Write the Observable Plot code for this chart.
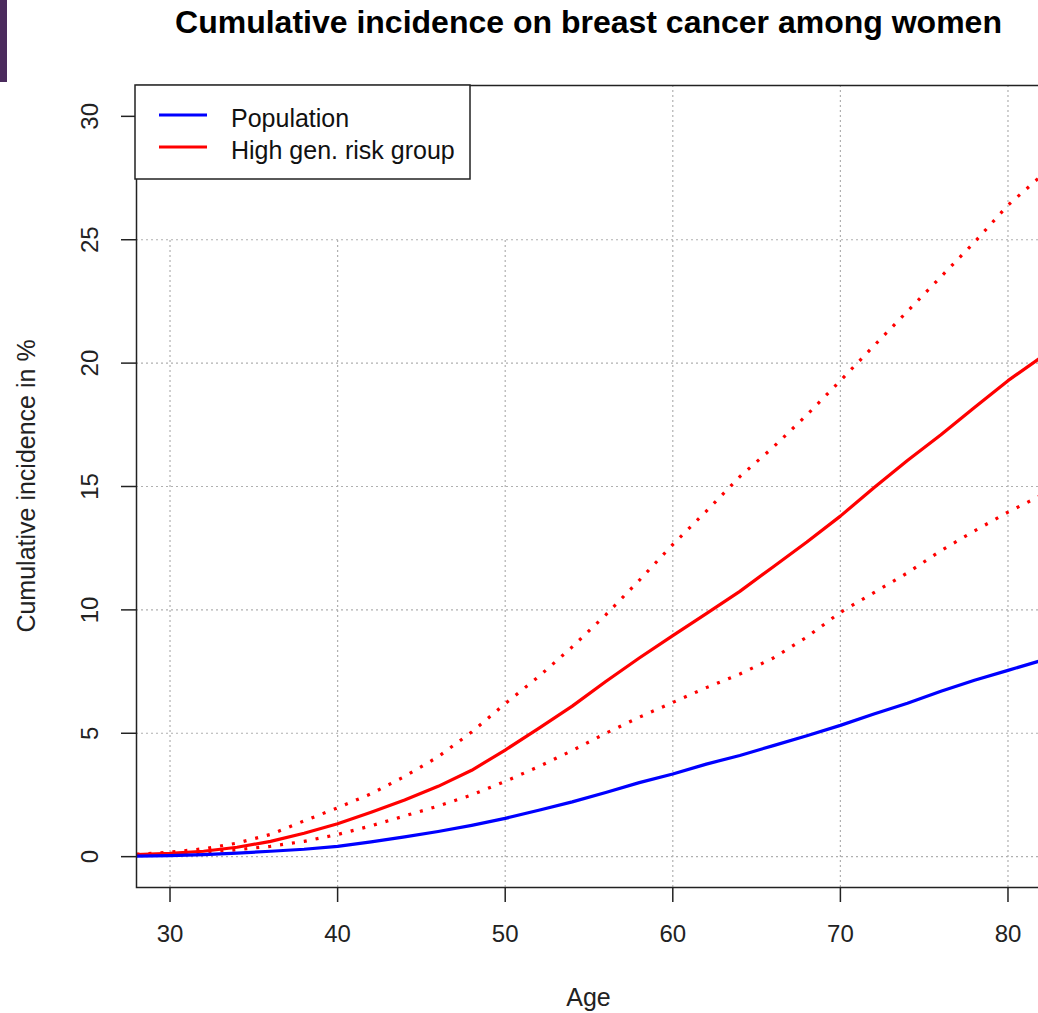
<!DOCTYPE html>
<html>
<head>
<meta charset="utf-8">
<script src="https://cdn.jsdelivr.net/npm/d3@7"></script>
<script src="https://cdn.jsdelivr.net/npm/@observablehq/plot@0.6"></script>
<style>
  html, body { margin: 0; padding: 0; background: #fff; }
  body { width: 1038px; height: 1013px; overflow: hidden; position: relative; }
  #chart { position: absolute; left: 0; top: 0; width: 1080px; }
  #chart svg { max-width: none !important; }
</style>
</head>
<body>
<div id="chart"></div>
<script>
// ---- data ----
const ages          = [28, 30, 32, 34, 36, 38, 40, 42, 44, 46, 48, 50, 52, 54, 56, 58, 60, 62, 64, 66, 68, 70, 72, 74, 76, 78, 80, 82];
const population    = [0.02, 0.04, 0.08, 0.14, 0.22, 0.30, 0.42, 0.60, 0.80, 1.02, 1.27, 1.55, 1.88, 2.22, 2.60, 3.00, 3.35, 3.75, 4.10, 4.50, 4.90, 5.32, 5.78, 6.22, 6.70, 7.15, 7.55, 7.95];
const highRisk      = [0.08, 0.13, 0.22, 0.38, 0.62, 0.95, 1.33, 1.80, 2.30, 2.85, 3.50, 4.32, 5.20, 6.10, 7.10, 8.05, 8.96, 9.85, 10.75, 11.75, 12.75, 13.80, 14.95, 16.05, 17.10, 18.20, 19.29, 20.25];
const highRiskUpper = [0.10, 0.18, 0.32, 0.55, 0.90, 1.45, 1.98, 2.55, 3.25, 4.05, 5.05, 6.20, 7.30, 8.50, 9.80, 11.20, 12.65, 14.00, 15.40, 16.60, 17.90, 19.29, 20.70, 22.10, 23.50, 24.90, 26.40, 27.60];
const highRiskLower = [0.05, 0.10, 0.18, 0.28, 0.42, 0.62, 0.90, 1.25, 1.65, 2.05, 2.50, 3.05, 3.65, 4.30, 5.00, 5.65, 6.25, 6.85, 7.40, 8.05, 8.90, 9.90, 10.70, 11.50, 12.40, 13.20, 13.96, 14.65];

const xTicks = [30, 40, 50, 60, 70, 80];
const yTicks = [0, 5, 10, 15, 20, 25, 30];
const gridY = [0, 5, 10, 15, 20, 25];
const gridXShort = [30, 40, 50];
const gridXFull = [60, 70, 80];

const titleText = "Cumulative incidence on breast cancer among women";
const xLabel = "Age";
const yLabel = "Cumulative incidence in %";
const legendItems = [
  {label: "Population", color: "#0000ff"},
  {label: "High gen. risk group", color: "#ff0000"}
];

const rows = ages.map((a, i) => ({
  age: a,
  pop: population[i],
  high: highRisk[i],
  upper: highRiskUpper[i],
  lower: highRiskLower[i]
}));

const font = "'Liberation Sans', Arial, Helvetica, sans-serif";
const gridStyle = {stroke: "#b0b0b0", strokeWidth: 1.2, strokeDasharray: "2,3"};

const W = 1080, H = 1013;
const mL = 136, mR = 39, mT = 85, mB = 126;

const chart = Plot.plot({
  width: W,
  height: H,
  marginLeft: mL,
  marginRight: mR,
  marginTop: mT,
  marginBottom: mB,
  style: {fontFamily: font, background: "white", color: "#222", overflow: "visible", maxWidth: "none"},
  x: {domain: [28, 82]},
  y: {domain: [-1.25, 31.25]},
  marks: [
    Plot.ruleY(gridY, gridStyle),
    Plot.ruleX(gridXShort, {...gridStyle, y1: -1.25, y2: 25}),
    Plot.ruleX(gridXFull, gridStyle),
    Plot.line(rows, {x: "age", y: "upper", stroke: "#ff0000", strokeWidth: 3.2, strokeDasharray: "3,9", strokeLinecap: "butt", clip: true}),
    Plot.line(rows, {x: "age", y: "lower", stroke: "#ff0000", strokeWidth: 3.2, strokeDasharray: "3,9", strokeLinecap: "butt", clip: true}),
    Plot.line(rows, {x: "age", y: "high", stroke: "#ff0000", strokeWidth: 3.2, clip: true}),
    Plot.line(rows, {x: "age", y: "pop", stroke: "#0000ff", strokeWidth: 3.2, clip: true}),
    Plot.frame({stroke: "#222", strokeWidth: 1.5}),
    Plot.axisX(xTicks, {anchor: "bottom", tickSize: 15, tickFormat: () => "", label: null, strokeWidth: 1.5}),
    Plot.axisY(yTicks, {anchor: "left", tickSize: 15, tickFormat: () => "", label: null, strokeWidth: 1.5}),
    Plot.text(xTicks, {x: d => d, frameAnchor: "bottom", dy: 47, text: d => String(d), fontSize: 24, fill: "#222", lineAnchor: "middle", textAnchor: "middle"}),
    Plot.text(yTicks, {y: d => d, frameAnchor: "left", dx: -46, text: d => String(d), fontSize: 24, fill: "#222", rotate: -90, lineAnchor: "middle", textAnchor: "middle"})
  ]
});

chart.style.maxWidth = "none";
chart.style.width = W + "px";
chart.style.height = H + "px";
document.getElementById("chart").appendChild(chart);

// ---- annotations (title, axis labels, legend) ----
const svg = d3.select(chart);
const plotCenterX = (mL + (W - mR)) / 2;
const plotCenterY = (mT + (H - mB)) / 2;

svg.append("rect").attr("x", 0).attr("y", 0).attr("width", 7).attr("height", 82).attr("fill", "#4b2b5d");

svg.append("text")
  .attr("x", plotCenterX).attr("y", 33)
  .attr("text-anchor", "middle")
  .attr("font-family", font).attr("font-weight", "bold").attr("font-size", 32)
  .attr("fill", "#000")
  .text(titleText);

svg.append("text")
  .attr("x", plotCenterX).attr("y", 1006)
  .attr("text-anchor", "middle")
  .attr("font-family", font).attr("font-size", 25)
  .attr("fill", "#222")
  .text(xLabel);

svg.append("text")
  .attr("transform", `translate(35,${plotCenterY}) rotate(-90)`)
  .attr("text-anchor", "middle")
  .attr("font-family", font).attr("font-size", 25)
  .attr("fill", "#222")
  .text(yLabel);

const lg = svg.append("g");
lg.append("rect").attr("x", 135).attr("y", 85).attr("width", 335).attr("height", 94)
  .attr("fill", "white").attr("stroke", "#222").attr("stroke-width", 1.5);
legendItems.forEach((d, i) => {
  const y = 115 + i * 32;
  lg.append("line").attr("x1", 159).attr("x2", 207).attr("y1", y).attr("y2", y)
    .attr("stroke", d.color).attr("stroke-width", 3);
  lg.append("text").attr("x", 231).attr("y", y + 12)
    .attr("text-anchor", "start")
    .attr("font-family", font).attr("font-size", 25).attr("fill", "#111")
    .text(d.label);
});
</script>
</body>
</html>
